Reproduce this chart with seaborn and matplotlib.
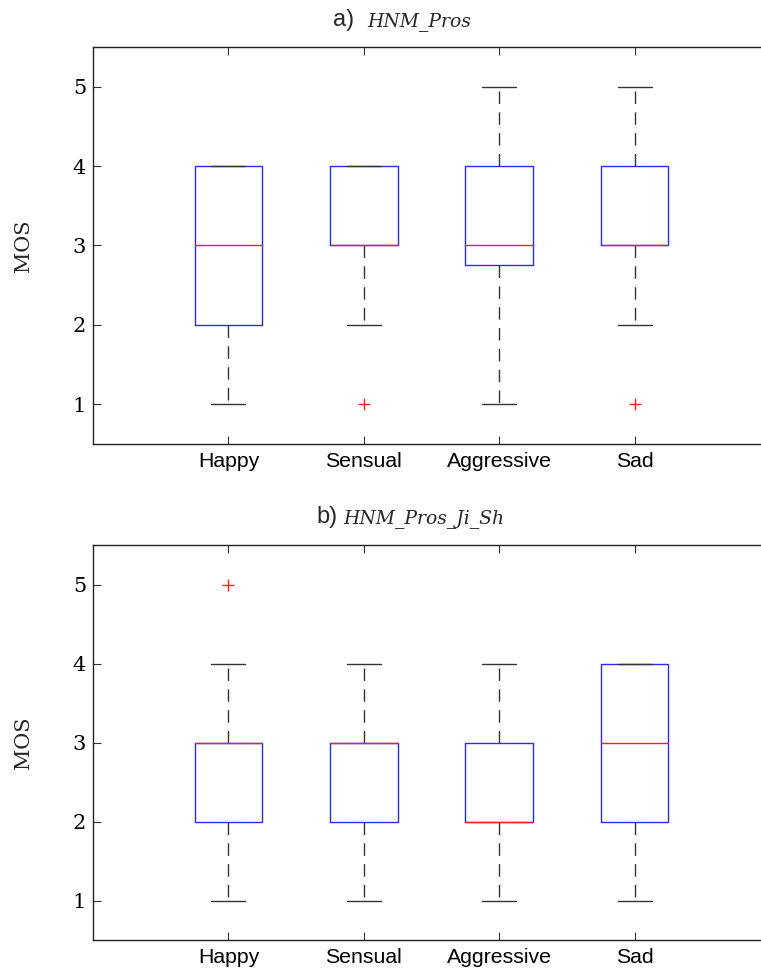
import matplotlib
matplotlib.use("Agg")
import matplotlib.pyplot as plt
import pandas as pd
import seaborn as sns

emotions = ["Happy", "Sensual", "Aggressive", "Sad"]

# Listener scores (MOS, 1-5) for system a) HNM_Pros
pros_happy = [1, 2, 2, 3, 3, 3, 4, 4, 4]
pros_sensual = [1, 2, 3, 3, 3, 3, 4, 4, 4]
pros_aggressive = [1, 2, 3, 3, 3, 4, 4, 5]
pros_sad = [1, 2, 3, 3, 3, 3, 4, 4, 5]

# Listener scores (MOS, 1-5) for system b) HNM_Pros_Ji_Sh
jish_happy = [1, 2, 2, 3, 3, 3, 3, 4, 5]
jish_sensual = [1, 2, 2, 3, 3, 3, 3, 3, 4]
jish_aggressive = [1, 2, 2, 2, 2, 3, 3, 3, 4]
jish_sad = [1, 2, 2, 3, 3, 3, 4, 4, 4]

y_ticks = [1, 2, 3, 4, 5]


def long_form(groups):
    rows = []
    for emo, vals in zip(emotions, groups):
        rows += [{"Emotion": emo, "MOS": v} for v in vals]
    return pd.DataFrame(rows)


panels = [
    ("a)", "HNM_Pros", long_form([pros_happy, pros_sensual, pros_aggressive, pros_sad])),
    ("b)", "HNM_Pros_Ji_Sh", long_form([jish_happy, jish_sensual, jish_aggressive, jish_sad])),
]

sns.set_theme(style="white")
plt.rcParams["font.family"] = ["DejaVu Sans"]

fig = plt.figure(figsize=(7.61, 9.69), dpi=100)
W, H = 761.0, 969.0
# axes boxes in pixels: (left, top, right, bottom)
boxes = [(93, 47, 770, 444), (93, 545, 770, 940)]
title_pos = [(354, 367, 26), (338, 343, 523)]

for (tag, name, df), (l, t, r, b), (tx1, tx2, tbase) in zip(panels, boxes, title_pos):
    ax = fig.add_axes([l / W, 1 - b / H, (r - l) / W, (b - t) / H])
    sns.boxplot(
        data=df, x="Emotion", y="MOS", order=emotions, ax=ax,
        width=0.5, whis=1.5, fill=False, linecolor="blue", linewidth=1.0,
        boxprops=dict(color="#2b2bff", linewidth=1.0),
        medianprops=dict(color="#ff2020", linewidth=1.0),
        whiskerprops=dict(color="#333333", linewidth=1.0, linestyle=(0, (9, 6))),
        capprops=dict(color="#333333", linewidth=1.0),
        flierprops=dict(marker="+", markersize=9, markeredgecolor="#ff2020",
                        markerfacecolor="none", markeredgewidth=1.0),
    )
    ax.set_xlim(-1, 4)
    ax.set_ylim(0.5, 5.5)
    ax.set_yticks(y_ticks)
    ax.set_yticklabels([str(v) for v in y_ticks], fontfamily="DejaVu Serif", fontsize=15)
    ax.set_xticks(range(len(emotions)))
    ax.set_xticklabels(emotions, fontfamily="Liberation Sans", fontsize=15.3)
    ax.set_xlabel("")
    ax.set_ylabel("MOS", fontfamily="DejaVu Serif", fontsize=15)
    ax.yaxis.set_label_coords((33 - l) / (r - l), 0.5)
    ax.tick_params(direction="in", length=6, width=0.8, color="#333333",
                   top=True, right=False, bottom=True, left=True, labelcolor="black")
    ax.tick_params(axis="x", pad=6)
    ax.tick_params(axis="y", pad=5)
    for side, sp in ax.spines.items():
        sp.set_visible(side != "right")
        sp.set_color("#222222")
        sp.set_linewidth(1.0)
    yb = 1 + (t - tbase) / (b - t)
    ax.text((tx1 - l) / (r - l), yb, tag, transform=ax.transAxes, ha="right",
            va="baseline", fontfamily="Liberation Sans", fontsize=17)
    ax.text((tx2 - l) / (r - l), yb, name, transform=ax.transAxes, ha="left",
            va="baseline", fontfamily="DejaVu Serif", fontstyle="italic", fontsize=13.5)

fig.savefig("out.png", dpi=100, facecolor="white")
